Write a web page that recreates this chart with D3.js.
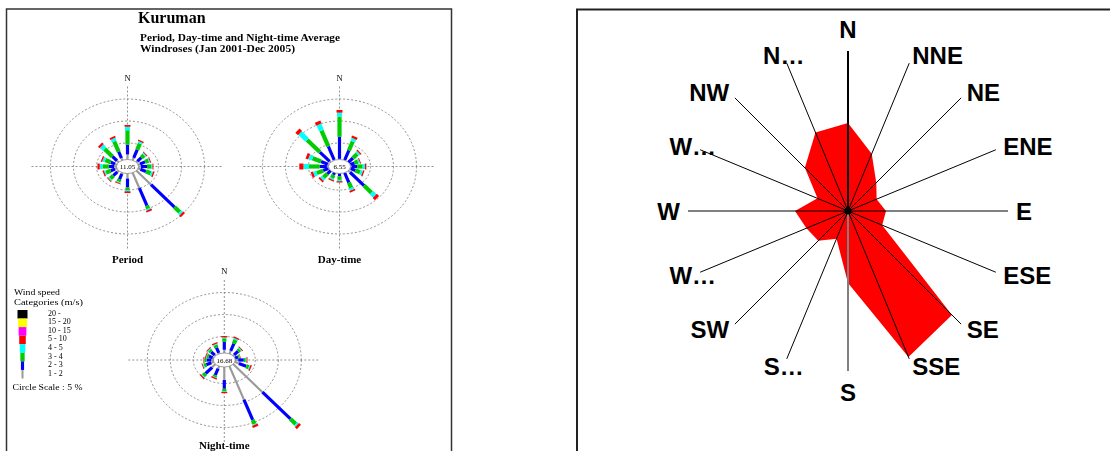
<!DOCTYPE html>
<html>
<head>
<meta charset="utf-8">
<script src="https://cdn.jsdelivr.net/npm/d3@7"></script>
<style>
  html, body { margin: 0; padding: 0; background: #fff; }
  svg { display: block; }
</style>
</head>
<body>
<svg id="chart" width="1110" height="451"></svg>
<script>
// ####################################################################################
// Data

var dirs = ["N","NNE","NE","ENE","E","ESE","SE","SSE","S","SSW","SW","WSW","W","WNW","NW","NNW"];
// labels as they show on the radar (long ones cut off)
var radarLabels = ["N","NNE","NE","ENE","E","ESE","SE","SSE","S","S…","SW","W…","W","W…","NW","N…"];
// frequency (%) per direction, radar panel
var radarFreq = [8.8, 6.2, 4.0, 3.1, 3.8, 3.7, 14.7, 15.8, 7.2, 3.0, 4.2, 4.5, 5.3, 3.3, 6.1, 8.5];

var speedClasses = ["1 - 2", "2 - 3", "3 - 4", "4 - 5", "5 - 10"];
var legendClasses = ["20 -", "15 - 20", "10 - 15", "5 - 10", "4 - 5", "3 - 4", "2 - 3", "1 - 2"];
var legendColors = ["#000000", "#ffff00", "#ff00ff", "#ff0000", "#00ffff", "#00cc00", "#0000ff", "#9a9a9a"];

// windrose frequency (%) per direction, split by speed class [1-2, 2-3, 3-4, 4-5, 5-10]
var periodRose = [
  [2.4, 2.2, 3.3, 0.8, 0.4], [1.8, 2.0, 1.5, 0.4, 0.3], [1.3, 1.2, 0.8, 0.3, 0.2], [1.2, 1.2, 0.8, 0.2, 0.2],
  [1.2, 1.3, 0.9, 0.3, 0.2], [1.3, 1.3, 1.1, 0.4, 0.3], [5.5, 7.2, 1.6, 0.5, 0.5], [5.0, 4.3, 0.7, 0.3, 0.4],
  [2.4, 2.0, 0.6, 0.3, 0.4], [1.5, 1.3, 0.6, 0.2, 0.2], [1.4, 1.2, 0.9, 0.3, 0.2], [1.2, 1.0, 1.1, 0.3, 0.3],
  [1.2, 1.1, 1.4, 0.6, 0.5], [1.2, 1.0, 1.3, 0.5, 0.3], [1.5, 1.4, 2.4, 0.9, 0.5], [1.7, 1.6, 2.5, 0.7, 0.4]
];
var dayRose = [
  [1.4, 5.0, 4.6, 0.9, 0.6], [1.2, 2.4, 2.2, 0.7, 0.5], [0.9, 1.5, 1.3, 0.4, 0.3], [0.8, 1.0, 0.8, 0.3, 0.2],
  [0.9, 1.2, 1.2, 0.5, 0.3], [0.9, 1.1, 1.1, 0.5, 0.3], [1.5, 4.3, 2.3, 1.0, 0.7], [1.2, 2.4, 1.3, 0.5, 0.4],
  [0.9, 1.0, 0.8, 0.3, 0.3], [0.8, 0.9, 0.8, 0.3, 0.3], [0.9, 1.1, 1.2, 0.5, 0.4], [0.9, 1.2, 1.5, 0.7, 0.5],
  [1.0, 1.6, 2.3, 1.2, 0.9], [1.0, 1.6, 2.0, 0.8, 0.6], [1.3, 3.0, 3.9, 2.2, 0.8], [1.3, 3.3, 3.9, 1.5, 0.7]
];
var nightRose = [
  [2.0, 1.8, 0.8, 0.2, 0.3], [1.9, 1.8, 0.9, 0.3, 0.3], [1.3, 1.2, 0.5, 0.2, 0.2], [0.8, 0.7, 0.3, 0.1, 0.1],
  [1.3, 1.2, 0.4, 0.2, 0.2], [1.7, 1.7, 0.6, 0.2, 0.3], [10.0, 8.6, 1.6, 0.4, 0.6], [9.4, 5.0, 1.0, 0.2, 0.5],
  [4.2, 2.0, 0.6, 0.1, 0.3], [1.8, 1.6, 0.4, 0.1, 0.3], [2.0, 2.0, 0.7, 0.2, 0.3], [1.3, 1.2, 0.5, 0.2, 0.2],
  [1.1, 1.0, 0.4, 0.1, 0.2], [1.0, 0.9, 0.4, 0.1, 0.2], [1.2, 1.1, 0.5, 0.2, 0.2], [1.4, 1.3, 0.6, 0.2, 0.3]
];
var roseNames = ["Period", "Day-time", "Night-time"];
var roseCalms = ["11.05", "6.55", "16.68"];
var ringValues = [5, 10, 15];

var svg = d3.select("#chart");

// ####################################################################################
// Left panel : windrose figure

svg.append("defs").append("filter")
    .attr("id", "soft")
  .append("feGaussianBlur")
    .attr("stdDeviation", 0.55);

svg.append("rect")
    .attr("x", 6.5).attr("y", 9).attr("width", 445).attr("height", 460)
    .attr("fill", "#fff").attr("stroke", "#333").attr("stroke-width", 1.5);

var left = svg.append("g").attr("filter", "url(#soft)");
var serif = "'Liberation Serif', 'DejaVu Serif', serif";

left.append("text").attr("x", 138).attr("y", 23.3)
    .style("font-family", serif).style("font-weight", "bold").style("font-size", "16px")
    .text("Kuruman");
left.append("text").attr("x", 140).attr("y", 41)
    .attr("textLength", 200).attr("lengthAdjust", "spacingAndGlyphs")
    .style("font-family", serif).style("font-weight", "bold").style("font-size", "9.5px")
    .text("Period, Day-time and Night-time Average");
left.append("text").attr("x", 140).attr("y", 51.5)
    .attr("textLength", 155).attr("lengthAdjust", "spacingAndGlyphs")
    .style("font-family", serif).style("font-weight", "bold").style("font-size", "9.5px")
    .text("Windroses (Jan 2001-Dec 2005)");

var roseCentres = [[127.5, 166.5], [339.5, 166.5], [224.3, 360]];
var roseData = [periodRose, dayRose, nightRose];
var classColors = ["#9a9a9a", "#0000ff", "#00cc00", "#00ffff", "#ff0000"];
var classWidths = [2.2, 3.2, 4.2, 5, 6];

// elliptical (stretched) radial scales of the scanned figure
var rxScale = d3.scaleLinear().domain([0, 15]).range([8, 77]);
var ryScale = d3.scaleLinear().domain([0, 15]).range([1.5, 67.5]);
var angleScale = d3.scaleLinear().domain([0, 16]).range([0, 2 * Math.PI]);

roseData.forEach(function(rose, k) {
  var cx = roseCentres[k][0], cy = roseCentres[k][1];
  var g = left.append("g").attr("transform", `translate(${cx},${cy})`);

  // dashed axes
  g.append("line").attr("x1", -96).attr("x2", 96).attr("y1", 0).attr("y2", 0)
      .attr("stroke", "#777").attr("stroke-width", 0.8).attr("stroke-dasharray", "2,2");
  g.append("line").attr("x1", 0).attr("x2", 0).attr("y1", -80).attr("y2", 84)
      .attr("stroke", "#777").attr("stroke-width", 0.8).attr("stroke-dasharray", "2,2");

  g.selectAll("ellipse.ring")
    .data(ringValues)
    .join("ellipse")
      .attr("class", "ring")
      .attr("rx", d => rxScale(d))
      .attr("ry", d => ryScale(d))
      .attr("fill", "none").attr("stroke", "#777").attr("stroke-width", 0.8)
      .attr("stroke-dasharray", "2,2");

  g.append("text").attr("x", 0).attr("y", -86)
      .attr("text-anchor", "middle")
      .style("font-family", serif).style("font-size", "8.5px")
      .text("N");

  // stacked segments
  var segs = [];
  rose.forEach(function(row, i) {
    var cum = 0;
    row.forEach(function(v, c) {
      segs.push({dir: i, c: c, p0: cum, p1: cum + v});
      cum += v;
    });
  });

  g.selectAll("line.seg")
    .data(segs)
    .join("line")
      .attr("class", "seg")
      .attr("x1", d => Math.sin(angleScale(d.dir)) * rxScale(d.p0))
      .attr("y1", d => -Math.cos(angleScale(d.dir)) * ryScale(d.p0))
      .attr("x2", d => Math.sin(angleScale(d.dir)) * rxScale(d.p1))
      .attr("y2", d => -Math.cos(angleScale(d.dir)) * ryScale(d.p1))
      .attr("stroke", d => classColors[d.c])
      .attr("stroke-width", d => classWidths[d.c]);

  // calm circle
  g.append("ellipse").attr("rx", 11).attr("ry", 7)
      .attr("fill", "#fff").attr("stroke", "#888").attr("stroke-width", 0.8);
  g.append("text").attr("y", 2.5)
      .attr("text-anchor", "middle")
      .style("font-family", serif).style("font-size", "7px")
      .text(roseCalms[k]);

  g.append("text").attr("y", k < 2 ? 96.5 : 89)
      .attr("text-anchor", "middle")
      .style("font-family", serif).style("font-weight", "bold").style("font-size", "11px")
      .text(roseNames[k]);
});

// legend
left.append("text").attr("x", 14).attr("y", 294.5)
    .attr("textLength", 46).attr("lengthAdjust", "spacingAndGlyphs")
    .style("font-family", serif).style("font-size", "9px").text("Wind speed");
left.append("text").attr("x", 14).attr("y", 304.5)
    .attr("textLength", 69).attr("lengthAdjust", "spacingAndGlyphs")
    .style("font-family", serif).style("font-size", "9px").text("Categories (m/s)");

var legY = d3.scaleBand().domain(legendClasses).range([310, 378.5]);
var legW = d3.scaleLinear().domain([0, legendClasses.length - 1]).range([10, 2]);

left.selectAll("rect.leg")
  .data(legendClasses)
  .join("rect")
    .attr("class", "leg")
    .attr("x", (d, i) => 22.5 - legW(i) / 2)
    .attr("y", d => legY(d))
    .attr("width", (d, i) => legW(i))
    .attr("height", legY.bandwidth())
    .attr("fill", (d, i) => legendColors[i]);

left.selectAll("text.leg")
  .data(legendClasses)
  .join("text")
    .attr("class", "leg")
    .attr("x", 48)
    .attr("y", d => legY(d) + legY.bandwidth() / 2 + 1.5)
    .style("font-family", serif).style("font-size", "8px")
    .text(d => d);

left.append("text").attr("x", 12.5).attr("y", 390)
    .attr("textLength", 70).attr("lengthAdjust", "spacingAndGlyphs")
    .style("font-family", serif).style("font-size", "9px").text("Circle Scale : 5 %");

// ####################################################################################
// Right panel : radar

svg.append("rect")
    .attr("x", 577).attr("y", 9.5).attr("width", 560).attr("height", 470)
    .attr("fill", "#fff").attr("stroke", "#222").attr("stroke-width", 2);

var cx = 848, cy = 211;
var rScale = d3.scaleLinear().domain([0, 16]).range([0, 160]);
var radar = svg.append("g").attr("transform", `translate(${cx},${cy})`);

radar.append("path")
    .datum(radarFreq)
    .attr("d", d3.lineRadial()
      .angle((d, i) => angleScale(i))
      .radius(d => rScale(d))
      .curve(d3.curveLinearClosed))
    .attr("fill", "#ff0000");

radar.selectAll("line.spoke")
  .data(dirs)
  .join("line")
    .attr("class", "spoke")
    .attr("x1", 0).attr("y1", 0)
    .attr("x2", (d, i) => d3.pointRadial(angleScale(i), rScale(16))[0])
    .attr("y2", (d, i) => d3.pointRadial(angleScale(i), rScale(16))[1])
    .attr("stroke", (d, i) => i === 8 ? "#808080" : "#000")
    .attr("stroke-width", (d, i) => (i === 0 || i === 8) ? 2 : 1);

radar.append("circle").attr("r", 3.5).attr("fill", "#000");

radar.selectAll("text.lab")
  .data(radarLabels)
  .join("text")
    .attr("class", "lab")
    .attr("x", (d, i) => i % 8 === 0 ? 0 : d3.pointRadial(angleScale(i), 168)[0])
    .attr("y", (d, i) => i === 0 ? -173 : i === 8 ? 173 : d3.pointRadial(angleScale(i), 168)[1])
    .attr("dy", (d, i) => i === 0 ? "0em" : i === 8 ? "0.72em" : "0.36em")
    .attr("text-anchor", (d, i) => (i % 8 === 0 || d.includes("…")) ? "middle" : i < 8 ? "start" : "end")
    .style("font-family", "'Liberation Sans', Arial, sans-serif")
    .style("font-weight", "bold")
    .style("font-size", "24px")
    .text(d => d);
</script>
</body>
</html>
